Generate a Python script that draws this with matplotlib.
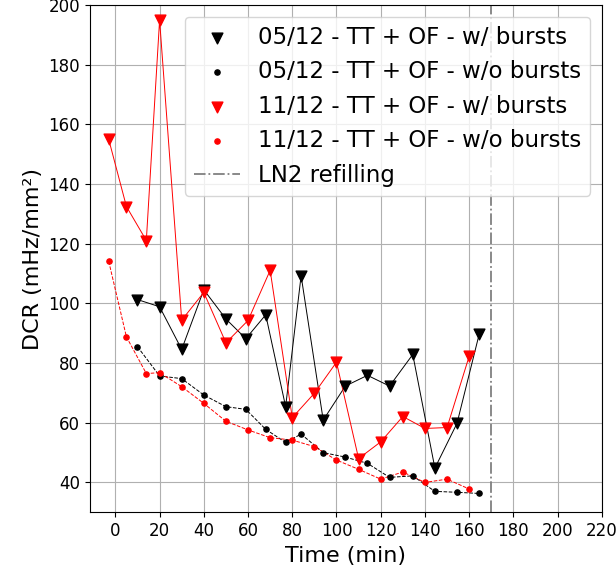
import matplotlib
matplotlib.use("Agg")
import matplotlib.pyplot as plt
import numpy as np

# 05/12 - TT + OF
t_0512 = [10, 20, 30, 40, 50, 59, 68, 77, 84, 94, 104, 114, 124, 134.5, 144.5, 154.5, 164.5]
dcr_0512_bursts = [101.3, 98.9, 84.6, 104.6, 94.8, 88.2, 96.2, 65.4, 109.3, 60.9, 72.3, 75.9, 72.3, 82.9, 44.8, 59.8, 89.6]
dcr_0512_nobursts = [85.5, 75.7, 74.8, 69.3, 65.4, 64.5, 57.8, 53.4, 56.2, 50.0, 48.5, 46.4, 41.7, 42.2, 37.0, 36.7, 36.3]

# 11/12 - TT + OF
t_1112 = [-3, 5, 14, 20, 30, 40, 50, 60, 70, 80, 90, 100, 110, 120, 130, 140, 150, 160]
dcr_1112_bursts = [155.0, 132.5, 121.1, 195.0, 94.4, 103.7, 86.8, 94.3, 111.1, 61.7, 69.9, 80.3, 48.0, 53.6, 62.1, 58.1, 58.4, 82.3]
dcr_1112_nobursts = [114.1, 88.8, 76.5, 76.8, 72.1, 66.5, 60.5, 57.6, 55.0, 54.2, 52.0, 47.5, 44.4, 41.1, 43.5, 40.0, 41.1, 37.8]

t_refill = 170

fig = plt.figure(figsize=(6.16, 5.73), dpi=100)
ax = fig.add_axes([0.146, 0.106, 0.831, 0.885])

# linee di collegamento (senza legenda)
ax.plot(t_0512, dcr_0512_bursts, '-', color='black', lw=0.7)
ax.plot(t_0512, dcr_0512_nobursts, '--', color='black', lw=0.7)
ax.plot(t_1112, dcr_1112_bursts, '-', color='red', lw=0.7)
ax.plot(t_1112, dcr_1112_nobursts, '--', color='red', lw=0.7)

# marker
ax.scatter(t_0512, dcr_0512_bursts, marker='v', color='black', s=60, zorder=3, label='05/12 - TT + OF - w/ bursts')
ax.scatter(t_0512, dcr_0512_nobursts, marker='o', color='black', s=14, zorder=3, label='05/12 - TT + OF - w/o bursts')
ax.scatter(t_1112, dcr_1112_bursts, marker='v', color='red', s=60, zorder=3, label='11/12 - TT + OF - w/ bursts')
ax.scatter(t_1112, dcr_1112_nobursts, marker='o', color='red', s=14, zorder=3, label='11/12 - TT + OF - w/o bursts')

ax.axvline(t_refill, color='gray', ls='-.', lw=1.3, label='LN2 refilling')

ax.set_xlim(-11.5, 220)
ax.set_ylim(30, 200)
ax.set_xticks(np.arange(0, 221, 20))
ax.set_yticks(np.arange(40, 201, 20))
ax.tick_params(labelsize=12)
ax.grid(True)

ax.set_xlabel("Time (min)", fontsize=16)
ax.set_ylabel("DCR (mHz/mm²)", fontsize=16)
ax.legend(loc='upper right', fontsize=16.5)

plt.savefig("out.png", dpi=100)
